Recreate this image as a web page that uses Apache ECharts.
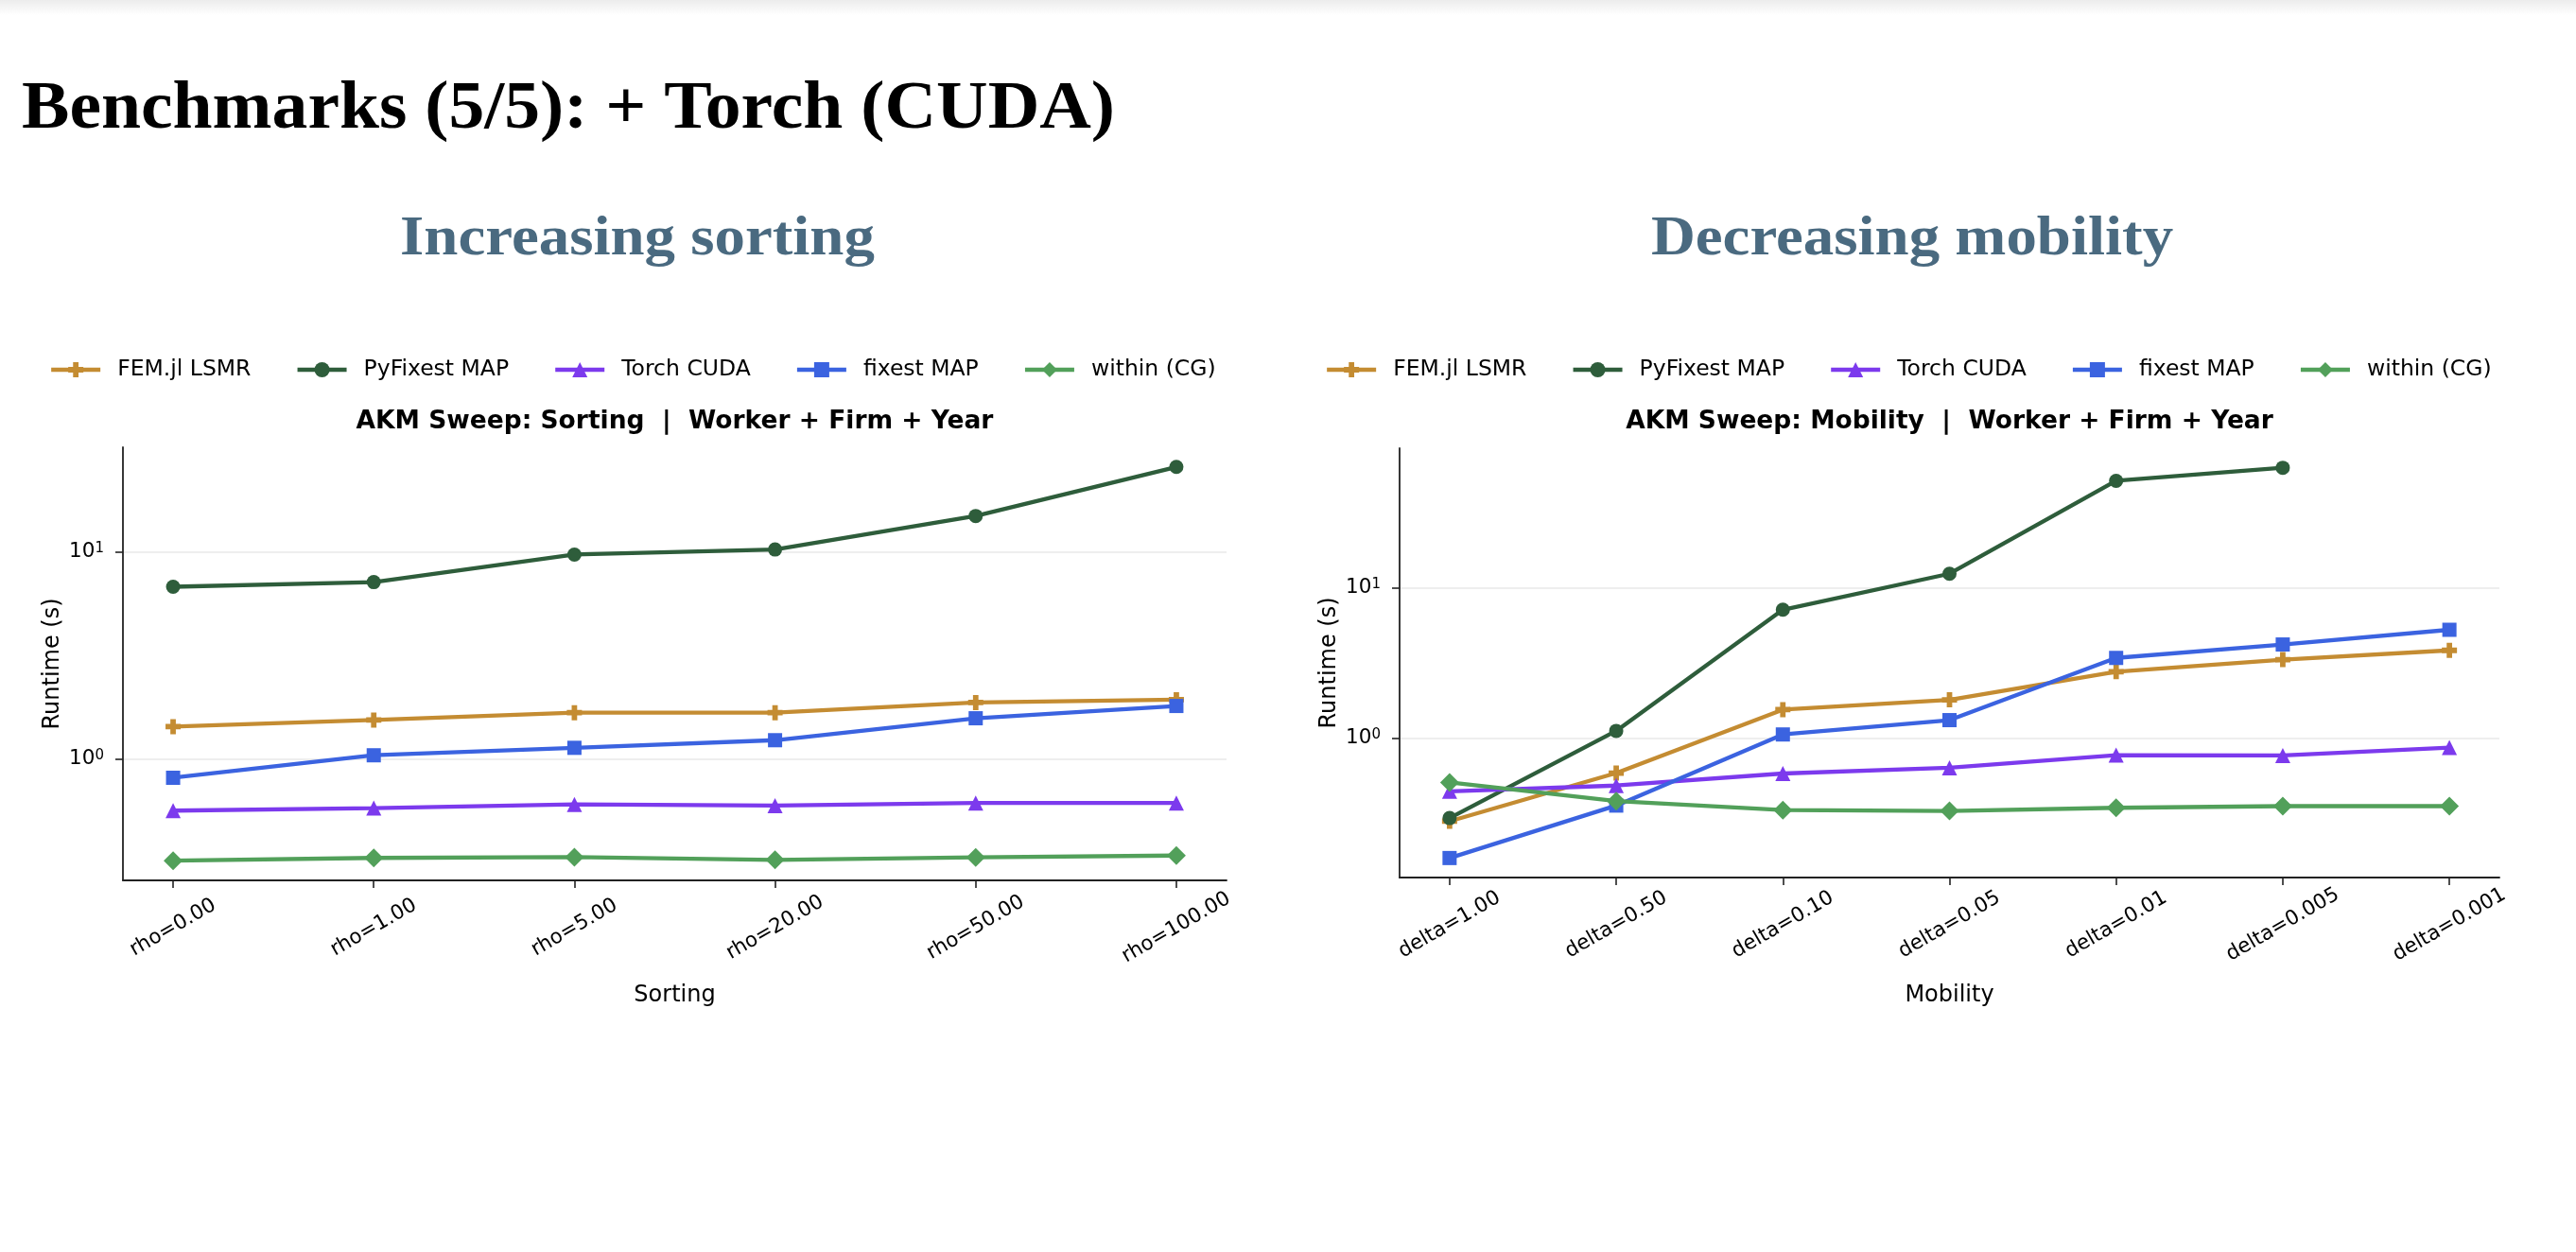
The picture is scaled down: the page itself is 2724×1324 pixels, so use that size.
<!DOCTYPE html>
<html><head><meta charset="utf-8">
<script src="https://cdn.jsdelivr.net/npm/echarts@6/dist/echarts.min.js"></script>
<style>html,body{margin:0;padding:0;background:#fff;}#c{width:2724px;height:1324px;}</style>
</head><body><div id="c"></div>
<script>
// ---------- data ----------
const sortingCategories = ['rho=0.00','rho=1.00','rho=5.00','rho=20.00','rho=50.00','rho=100.00'];
const mobilityCategories = ['delta=1.00','delta=0.50','delta=0.10','delta=0.05','delta=0.01','delta=0.005','delta=0.001'];
const seriesNames = ['FEM.jl LSMR','PyFixest MAP','Torch CUDA','fixest MAP','within (CG)'];

const sortingFem      = [1.43, 1.54, 1.67, 1.67, 1.87, 1.93];
const sortingPyfixest = [6.78, 7.14, 9.70, 10.26, 14.9, 25.7];
const sortingTorch    = [0.562, 0.578, 0.602, 0.594, 0.612, 0.612];
const sortingFixest   = [0.81, 1.04, 1.13, 1.23, 1.57, 1.80];
const sortingWithin   = [0.322, 0.332, 0.335, 0.325, 0.334, 0.341];

const mobilityFem      = [0.281, 0.587, 1.55, 1.80, 2.77, 3.33, 3.84];
const mobilityPyfixest = [0.295, 1.12, 7.15, 12.4, 51.4, 62.8];
const mobilityTorch    = [0.444, 0.485, 0.583, 0.637, 0.772, 0.768, 0.867];
const mobilityFixest   = [0.160, 0.357, 1.06, 1.32, 3.42, 4.20, 5.26];
const mobilityWithin   = [0.509, 0.382, 0.333, 0.329, 0.345, 0.354, 0.354];

const yTickValues = [1, 10];
const yTickLabels = ['10{sup|0}', '10{sup|1}'];

// ---------- styles ----------
const colors = ['#C48C32', '#2E5D3B', '#7C3AED', '#3B63E0', '#52A05A'];
const plusPath = 'path://M3.2,0H6.8V3.2H10V6.8H6.8V10H3.2V6.8H0V3.2H3.2Z';
const symbols = [plusPath, 'circle', 'triangle', 'rect', 'diamond'];
const symbolSizes = [16, 15, 16, 15, 20];
const FONT = '"DejaVu Sans", sans-serif';

function logExtent(arrs) {
  const vals = [].concat(...arrs).filter(v => v != null);
  const lo = Math.log10(Math.min(...vals)), hi = Math.log10(Math.max(...vals));
  const pad = (hi - lo) * 0.05;
  return [Math.pow(10, lo - pad), Math.pow(10, hi + pad)];
}

const sortingSets = [sortingFem, sortingPyfixest, sortingTorch, sortingFixest, sortingWithin];
const mobilitySets = [mobilityFem, mobilityPyfixest, mobilityTorch, mobilityFixest, mobilityWithin];
const extS = logExtent(sortingSets);
const extM = logExtent(mobilitySets);

function xAxis(gi, cats, name, gap) {
  const idx = cats.map((c, i) => i);
  const pad = (cats.length - 1) * 0.05;
  return {
    type: 'value', gridIndex: gi, min: -pad, max: cats.length - 1 + pad,
    name: name, nameLocation: 'middle', nameGap: gap,
    nameTextStyle: { fontFamily: FONT, fontSize: 24, color: '#000' },
    axisLine: { show: true, onZero: false, lineStyle: { color: '#222', width: 1.8 } },
    axisTick: { show: true, length: 8, customValues: idx, lineStyle: { color: '#222', width: 1.6 } },
    axisLabel: {
      customValues: idx, rotate: 30, align: 'center', verticalAlign: 'middle', margin: 50,
      fontFamily: FONT, fontSize: 21.5, color: '#000',
      formatter: v => cats[Math.round(v)]
    },
    splitLine: { show: false }
  };
}
function yAxis(gi, ext) {
  return {
    type: 'log', logBase: 10, gridIndex: gi, min: ext[0], max: ext[1],
    name: 'Runtime (s)', nameLocation: 'middle', nameGap: 62,
    nameTextStyle: { fontFamily: FONT, fontSize: 24, color: '#000' },
    axisLine: { show: true, onZero: false, lineStyle: { color: '#222', width: 1.8 } },
    axisTick: { show: true, length: 8, lineStyle: { color: '#222', width: 1.6 } },
    axisLabel: {
      showMinLabel: false, showMaxLabel: false, margin: 20,
      fontFamily: FONT, fontSize: 21.5, color: '#000',
      formatter: v => {
        for (let k = 0; k < yTickValues.length; k++) {
          if (Math.abs(v - yTickValues[k]) < 1e-6 * yTickValues[k]) return yTickLabels[k];
        }
        return '';
      },
      rich: { sup: { fontFamily: FONT, fontSize: 15, verticalAlign: 'top', color: '#000' } }
    },
    splitLine: { show: true, showMinLine: false, showMaxLine: false, lineStyle: { color: '#e8e8e8', width: 1.5 } }
  };
}
function makeSeries(sets, gi) {
  return sets.map((vals, i) => ({
    name: seriesNames[i], type: 'line', xAxisIndex: gi, yAxisIndex: gi,
    data: vals.map((v, k) => [k, v]),
    symbol: symbols[i], symbolSize: symbolSizes[i], showSymbol: true, showAllSymbol: true,
    lineStyle: { width: 4.3, color: colors[i] },
    itemStyle: { color: colors[i] },
    emphasis: { disabled: true }
  }));
}
function legend(left) {
  return {
    left: left, top: 379, orient: 'horizontal', padding: 0,
    itemWidth: 52, itemHeight: 20, itemGap: 47,
    data: seriesNames,
    lineStyle: { width: 4.3 },
    textStyle: { fontFamily: FONT, fontSize: 23.5, color: '#000', padding: [0, 0, 0, 13] },
    selectedMode: false
  };
}

const chart = echarts.init(document.getElementById('c'), null, { renderer: 'canvas' });
chart.setOption({
  animation: false,
  backgroundColor: '#ffffff',
  grid: [
    { left: 130, top: 473, width: 1167, height: 458 },
    { left: 1480, top: 474, width: 1163, height: 454 }
  ],
  legend: [legend(52), legend(1401)],
  xAxis: [xAxis(0, sortingCategories, 'Sorting', 110), xAxis(1, mobilityCategories, 'Mobility', 113)],
  yAxis: [yAxis(0, extS), yAxis(1, extM)],
  series: makeSeries(sortingSets, 0).concat(makeSeries(mobilitySets, 1)),
  graphic: [
    { type: 'rect', left: 0, top: 0, z: -1, shape: { width: 2724, height: 16 },
      style: { fill: new echarts.graphic.LinearGradient(0, 0, 0, 1, [{ offset: 0, color: '#ececec' }, { offset: 1, color: '#ffffff' }]) } },
    { type: 'text', x: 23, y: 116, scaleX: 1.05,
      style: { text: 'Benchmarks (5/5): + Torch (CUDA)', font: 'bold 72px "Liberation Serif", serif', fill: '#000', align: 'left', verticalAlign: 'middle' } },
    { type: 'text', x: 674, y: 254, scaleX: 1.1,
      style: { text: 'Increasing sorting', font: 'bold 59px "Liberation Serif", serif', fill: '#4A6A80', align: 'center', verticalAlign: 'middle' } },
    { type: 'text', x: 2022, y: 254, scaleX: 1.1,
      style: { text: 'Decreasing mobility', font: 'bold 59px "Liberation Serif", serif', fill: '#4A6A80', align: 'center', verticalAlign: 'middle' } },
    { type: 'text', x: 713.5, y: 446,
      style: { text: 'AKM Sweep: Sorting  |  Worker + Firm + Year', font: 'bold 26.5px "DejaVu Sans", sans-serif', fill: '#000', align: 'center', verticalAlign: 'middle' } },
    { type: 'text', x: 2061.5, y: 446,
      style: { text: 'AKM Sweep: Mobility  |  Worker + Firm + Year', font: 'bold 26.5px "DejaVu Sans", sans-serif', fill: '#000', align: 'center', verticalAlign: 'middle' } }
  ]
});
</script></body></html>
